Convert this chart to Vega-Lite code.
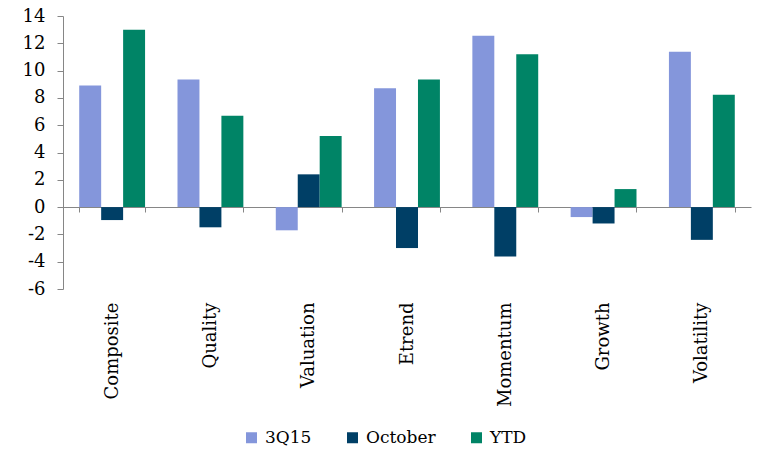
{
  "$schema": "https://vega.github.io/schema/vega-lite/v6.json",
  "width": 688,
  "height": 273,
  "autosize": {"type": "none"},
  "padding": {"left": 63, "top": 16, "right": 8, "bottom": 163},
  "background": "white",
  "config": {
    "font": "DejaVu Serif",
    "view": {"stroke": null},
    "axis": {"grid": false, "domainColor": "#868686", "tickColor": "#868686", "labelColor": "#000000", "labelFont": "DejaVu Serif"},
    "legend": {"labelFont": "DejaVu Serif"}
  },
  "data": {
    "values": [
      {"factor": "Composite", "period": "3Q15", "value": 8.9},
      {"factor": "Composite", "period": "October", "value": -0.95},
      {"factor": "Composite", "period": "YTD", "value": 13.0},
      {"factor": "Quality", "period": "3Q15", "value": 9.35},
      {"factor": "Quality", "period": "October", "value": -1.48},
      {"factor": "Quality", "period": "YTD", "value": 6.7},
      {"factor": "Valuation", "period": "3Q15", "value": -1.7},
      {"factor": "Valuation", "period": "October", "value": 2.4},
      {"factor": "Valuation", "period": "YTD", "value": 5.2},
      {"factor": "Etrend", "period": "3Q15", "value": 8.7},
      {"factor": "Etrend", "period": "October", "value": -3.0},
      {"factor": "Etrend", "period": "YTD", "value": 9.35},
      {"factor": "Momentum", "period": "3Q15", "value": 12.55},
      {"factor": "Momentum", "period": "October", "value": -3.62},
      {"factor": "Momentum", "period": "YTD", "value": 11.2},
      {"factor": "Growth", "period": "3Q15", "value": -0.73},
      {"factor": "Growth", "period": "October", "value": -1.2},
      {"factor": "Growth", "period": "YTD", "value": 1.32},
      {"factor": "Volatility", "period": "3Q15", "value": 11.38},
      {"factor": "Volatility", "period": "October", "value": -2.4},
      {"factor": "Volatility", "period": "YTD", "value": 8.23}
    ]
  },
  "mark": {"type": "bar"},
  "encoding": {
    "x": {
      "field": "factor",
      "type": "nominal",
      "sort": ["Composite", "Quality", "Valuation", "Etrend", "Momentum", "Growth", "Volatility"],
      "scale": {"paddingInner": 0.33, "paddingOuter": 0.165},
      "axis": {
        "title": null,
        "offset": -82,
        "tickBand": "extent",
        "tickSize": 5,
        "labelAngle": -90,
        "labelPadding": 90,
        "labelFontSize": 18,
        "labelFont": "DejaVu Serif"
      }
    },
    "xOffset": {
      "field": "period",
      "type": "nominal",
      "sort": ["3Q15", "October", "YTD"],
      "scale": {"paddingInner": 0, "paddingOuter": 0}
    },
    "y": {
      "field": "value",
      "type": "quantitative",
      "scale": {"domain": [-6, 14], "nice": false},
      "axis": {
        "title": null,
        "values": [-6, -4, -2, 0, 2, 4, 6, 8, 10, 12, 14],
        "labelExpr": "'' + datum.value",
        "tickSize": 6,
        "labelPadding": 12,
        "labelFontSize": 18
      }
    },
    "color": {
      "field": "period",
      "type": "nominal",
      "sort": ["3Q15", "October", "YTD"],
      "scale": {"domain": ["3Q15", "October", "YTD"], "range": ["#8496DB", "#003F66", "#008466"]},
      "legend": {
        "title": null,
        "orient": "none",
        "legendX": 180,
        "legendY": 413,
        "direction": "horizontal",
        "symbolType": "square",
        "symbolSize": 121,
        "symbolStrokeWidth": 0,
        "labelFontSize": 17,
        "labelOffset": 5,
        "columnPadding": 32
      }
    }
  }
}
